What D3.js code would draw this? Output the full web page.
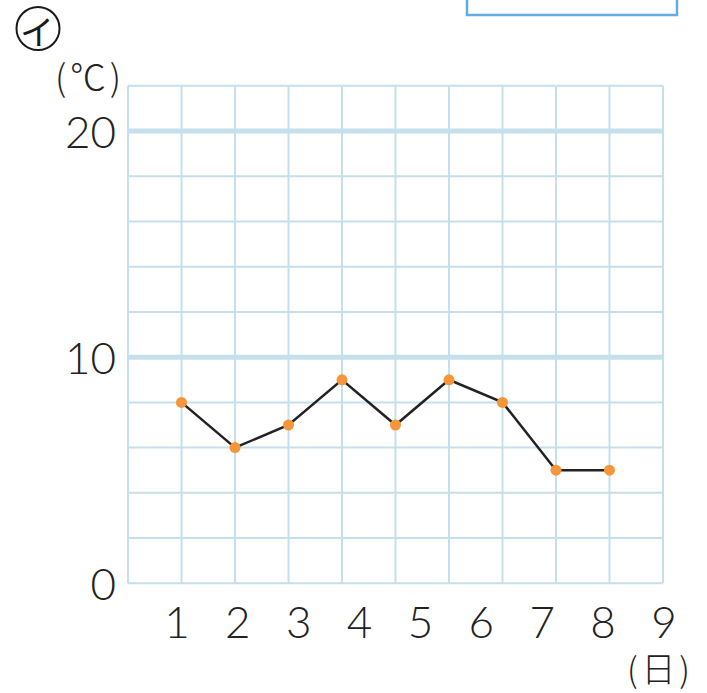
<!DOCTYPE html>
<html><head><meta charset="utf-8">
<script src="https://cdn.jsdelivr.net/npm/d3@7"></script>
<style>body{margin:0;background:#fff;}svg{display:block;}</style>
</head><body>
<script>
const days = [1,2,3,4,5,6,7,8,9];
const temps = [8,6,7,9,7,9,8,5,5];
const dayLabels = ["1","2","3","4","5","6","7","8","9"];
const yTicks = [0,10,20];
const yUnit = "(℃)";
const xUnit = "(日)";
const badge = "イ";

const W=707,H=693;
const svg=d3.select("body").append("svg").attr("width",W).attr("height",H);
const x=d3.scaleLinear().domain([0,10]).range([128,663]);
const y=d3.scaleLinear().domain([0,20]).range([583.3,131]);
const xl=d3.scaleLinear().domain([1,9]).range([177,664]);
const grid="#c6dfec";
const font="Lato, 'Open Sans', sans-serif";
const cjk="'Noto Sans CJK JP', sans-serif";

// top-right box
svg.append("rect").attr("x",467).attr("y",-10).attr("width",210).attr("height",25)
  .attr("fill","none").attr("stroke","#62ace2").attr("stroke-width",2.5);

// badge
svg.append("circle").attr("cx",38).attr("cy",28.5).attr("r",21.5).attr("fill","none").attr("stroke","#1a1a1a").attr("stroke-width",2);
svg.append("text").attr("x",37).attr("y",30).attr("text-anchor","middle").attr("dominant-baseline","central")
  .attr("font-family",cjk).attr("font-size",34).attr("fill","#1a1a1a").text(badge);

const g=svg.append("g");
g.selectAll("line.v").data(d3.range(0,11)).join("line")
  .attr("x1",d=>x(d)).attr("x2",d=>x(d)).attr("y1",y(22)).attr("y2",y(0))
  .attr("stroke",grid).attr("stroke-width",2);
g.selectAll("line.h").data(d3.range(0,23,2)).join("line")
  .attr("x1",x(0)).attr("x2",x(10)).attr("y1",d=>y(d)).attr("y2",d=>y(d))
  .attr("stroke",grid).attr("stroke-width",d=>(d===10||d===20)?5:2);

svg.selectAll("text.yl").data(yTicks).join("text")
  .attr("x",116).attr("y",d=>y(d)).attr("text-anchor","end").attr("dominant-baseline","central")
  .attr("font-family",font).attr("font-weight",300).attr("font-size",44).attr("fill","#222").text(d=>d);
svg.selectAll("text.xl").data(days).join("text")
  .attr("x",d=>xl(d)).attr("y",621).attr("text-anchor","middle").attr("dominant-baseline","central")
  .attr("font-family",font).attr("font-weight",300).attr("font-size",44).attr("fill","#222").text((d,i)=>dayLabels[i]);

svg.append("text").attr("x",55).attr("y",91).attr("textLength",66).attr("lengthAdjust","spacing")
  .attr("font-family",cjk).attr("font-weight",300).attr("font-size",36).attr("fill","#222").text(yUnit);
svg.append("text").attr("x",627).attr("y",682).attr("textLength",63).attr("lengthAdjust","spacing")
  .attr("font-family",cjk).attr("font-weight",300).attr("font-size",34).attr("fill","#222").text(xUnit);

svg.append("path").datum(days.map((d,i)=>[d,temps[i]]))
  .attr("d",d3.line().x(d=>x(d[0])).y(d=>y(d[1])))
  .attr("fill","none").attr("stroke","#222").attr("stroke-width",2.5);
svg.selectAll("circle.p").data(days.map((d,i)=>[d,temps[i]])).join("circle")
  .attr("cx",d=>x(d[0])).attr("cy",d=>y(d[1])).attr("r",5.5).attr("fill","#f7953b");
</script>
</body></html>
